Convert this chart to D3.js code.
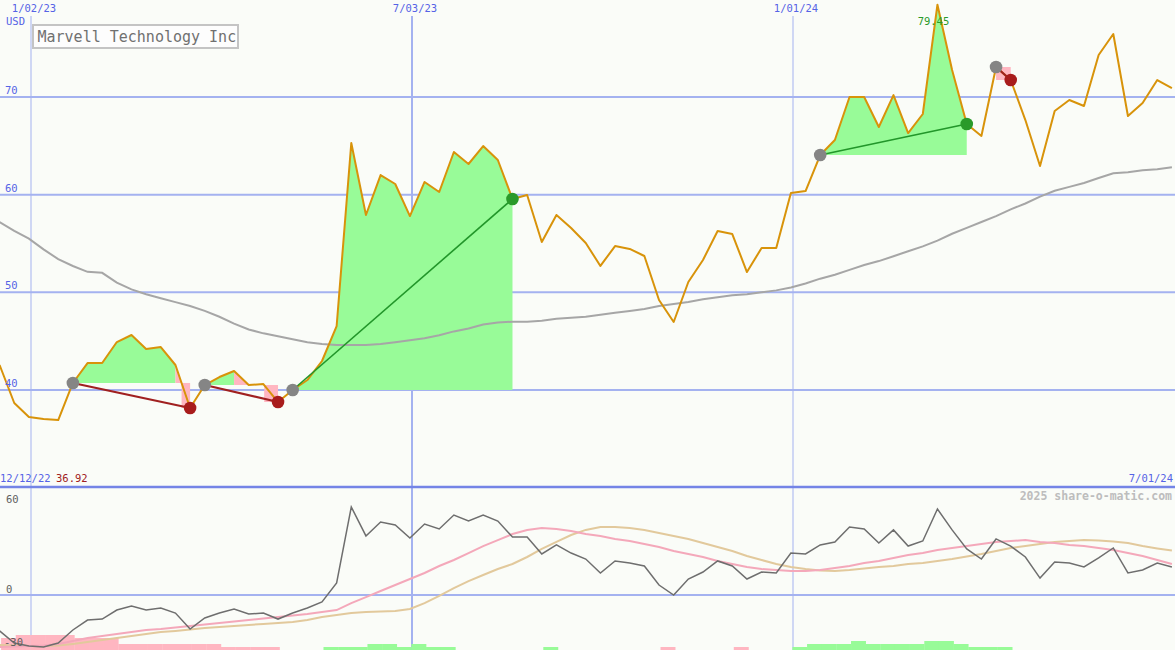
<!DOCTYPE html>
<html><head><meta charset="utf-8">
<script src="https://cdn.jsdelivr.net/npm/d3@7"></script>
<style>body{margin:0;background:#fafcf8;} svg{display:block;}</style>
</head><body><svg id="c" width="1175" height="650"></svg>
<script>
// ---------- data ----------
const title = "Marvell Technology Inc";
const currency = "USD";
const startDate = "2022-12-18";      // first weekly point
const firstLabel = "12/12/22";
const lastLabel = "7/01/24";
const credit = "2025 share-o-matic.com";
const dateTicks = ["2023-01-02", "2023-07-03", "2024-01-01"];
const dateTickLabels = ["1/02/23", "7/03/23", "1/01/24"];
const priceTicks = [40, 50, 60, 70];
const oscTicks = [60, 0, -30];

const closes = [42.56,38.67,37.24,37.03,36.92,40.72,42.76,42.76,44.91,45.63,
44.20,44.40,42.56,38.16,40.51,41.33,41.95,40.51,40.61,38.77,
40.00,41.02,42.97,46.55,65.29,57.92,62.01,61.09,57.81,61.30,
60.27,64.37,63.14,64.98,63.55,59.56,59.97,55.15,57.92,56.59,
55.05,52.70,54.74,54.44,53.72,49.21,46.96,51.06,53.31,56.28,
55.97,52.08,54.54,54.54,60.17,60.37,64.06,65.60,70.00,70.00,
66.93,70.20,66.31,68.26,79.45,72.76,67.23,66.01,73.07,71.74,
67.64,62.93,68.57,69.69,69.08,74.30,76.45,68.05,69.38,71.74,70.92];

const movingAvg = [57.2,56.3,55.5,54.4,53.4,52.7,52.1,52.0,51.0,50.3,
49.8,49.4,49.0,48.6,48.1,47.5,46.8,46.2,45.8,45.5,
45.2,44.9,44.7,44.6,44.6,44.6,44.7,44.9,45.1,45.3,
45.6,46.0,46.3,46.7,46.9,47.0,47.0,47.1,47.3,47.4,
47.5,47.7,47.9,48.1,48.3,48.6,48.8,49.0,49.3,49.5,
49.7,49.8,50.0,50.2,50.5,50.9,51.4,51.8,52.3,52.8,
53.2,53.7,54.2,54.7,55.3,56.0,56.6,57.2,57.8,58.5,
59.1,59.8,60.4,60.8,61.2,61.7,62.2,62.3,62.5,62.6,62.8];

const oscillator = [-22.7,-30.3,-32.2,-32.8,-30.3,-22.1,-15.8,-15.2,-9.5,-6.9,
-9.5,-8.2,-11.4,-21.5,-14.5,-11.4,-8.8,-12.0,-11.4,-15.2,
-11.4,-8.2,-4.4,7.6,55.6,37.3,46.1,44.2,36.0,44.8,
41.7,50.5,46.7,50.5,46.7,36.6,36.6,25.9,31.6,26.5,
22.7,13.9,21.5,20.2,18.3,6.3,0.0,10.1,14.5,21.5,
18.3,10.1,14.5,13.9,26.5,25.9,31.6,33.5,42.9,41.7,
32.8,41.1,30.9,34.1,54.3,41.1,29.1,22.7,35.4,30.9,
24.0,10.7,20.8,20.2,17.7,23.4,29.7,13.9,15.8,20.2,17.7];

const oscSignal = [-32.8,-32.5,-32.2,-31.9,-30.9,-29.1,-27.2,-25.9,-24.6,-23.4,
-22.1,-21.5,-20.5,-19.6,-18.6,-17.7,-16.7,-15.8,-14.8,-13.9,
-12.9,-12.0,-10.7,-9.5,-5.1,-1.3,2.5,6.3,10.1,13.9,
18.3,22.1,26.5,30.9,34.7,38.5,41.1,42.3,41.7,40.4,
38.5,37.3,35.4,34.1,32.2,30.3,27.8,25.9,24.0,21.5,
19.6,17.7,16.4,15.8,15.2,15.2,15.8,17.1,18.3,20.2,
21.5,23.4,25.3,26.5,28.4,29.7,30.9,32.2,33.5,34.1,
34.7,33.5,32.8,31.6,30.9,29.7,28.4,26.5,24.6,22.1,19.6];

const oscSlow = [-31.6,-31.9,-32.2,-32.2,-31.9,-30.9,-29.7,-28.4,-27.2,-25.9,
-24.6,-23.4,-22.7,-21.8,-20.8,-20.2,-19.6,-18.9,-18.3,-17.7,
-17.1,-15.8,-13.9,-12.6,-11.4,-10.7,-10.4,-10.1,-8.8,-5.1,
-0.6,4.4,8.8,12.6,16.4,19.6,24.0,29.1,33.5,37.9,
41.1,42.9,42.9,42.3,41.1,39.2,37.3,35.4,32.8,30.3,
27.8,24.6,22.1,19.6,17.7,16.4,15.5,15.2,15.8,16.7,
17.7,18.3,19.6,20.2,21.5,22.7,24.3,25.9,27.8,29.7,
30.9,32.2,33.5,34.1,34.7,34.4,33.8,32.8,30.9,29.4,28.1];

const histogram = [-4,-5,-5,-5,-5,-4,-4,-4,-2,-2,
-2,-2,-2,-2,-2,-1,-1,-1,-1,0,
0,0,1,1,1,2,2,1,2,1,
1,0,0,0,0,0,0,1,0,0,
0,0,0,0,0,-1,0,0,0,0,
-1,0,0,0,1,2,2,2,3,2,
2,2,2,3,3,2,1,1,1,0,
0,0,0,0,0,0,0,0,0,0,0];

const tradeEntries = [5, 14, 20, 56, 68];
const tradeExits = [13, 19, 35, 66, 69];

// ---------- drawing ----------
(function () {
const W = 1175, H = 650, SPLIT = 487;
const svg = d3.select("#c");
const parse = d3.utcParse("%Y-%m-%d");
const dates = closes.map((_, i) => d3.utcWeek.offset(parse(startDate), i));
const x = d3.scaleUtc().domain([parse("2023-01-02"), parse("2024-01-01")]).range([31, 793]);
const yP = d3.scaleLinear().domain([40, 70]).range([390, 97]);
const yO = d3.scaleLinear().domain([0, 60]).range([595, 500]);
const hS = d3.scaleLinear().domain([0, 5]).range([0, 15]);
const X = i => x(dates[i]);

const mono = "'DejaVu Sans Mono', 'Liberation Mono', monospace";
const blue = "#5563e6", grid = "#a4b2f0";
const GREEN = "#98fb98", PINK = "#ffb6c1";

svg.append("rect").attr("width", W).attr("height", H).attr("fill", "#fafcf8");
const defs = svg.append("defs");
defs.append("clipPath").attr("id", "ctop").append("rect").attr("x", 0).attr("y", 0).attr("width", W).attr("height", SPLIT);
defs.append("clipPath").attr("id", "cbot").append("rect").attr("x", 0).attr("y", SPLIT).attr("width", W).attr("height", H - SPLIT);

// grid
dateTicks.forEach((d, k) => {
  svg.append("line").attr("x1", x(parse(d))).attr("x2", x(parse(d))).attr("y1", 16).attr("y2", H)
    .attr("stroke", grid).attr("stroke-width", k === 1 ? 2 : 1);
});
priceTicks.forEach(v => {
  svg.append("line").attr("x1", 0).attr("x2", W).attr("y1", yP(v)).attr("y2", yP(v)).attr("stroke", grid).attr("stroke-width", 2);
});
svg.append("line").attr("x1", 0).attr("x2", W).attr("y1", yO(0)).attr("y2", yO(0)).attr("stroke", grid).attr("stroke-width", 2);

// top panel
const topG = svg.append("g").attr("clip-path", "url(#ctop)");
tradeEntries.forEach((e, t) => {
  const ex = tradeExits[t], base = closes[e], yb = yP(base);
  let k = e;
  while (k < ex) {
    const up = closes[k + 1] > base;
    if (up) {
      let j = k + 1;
      while (j < ex && closes[j + 1] > base) j++;
      const idx = d3.range(k, j + 1);
      topG.append("path")
        .attr("d", d3.area().x(X).y0(yb).y1(i => yP(closes[i]))(idx))
        .attr("fill", GREEN);
      k = j;
    } else {
      // losing segment: area above entry level, then box down to the segment end
      const x0 = X(k), x1 = X(k + 1), c0 = closes[k], c1 = closes[k + 1];
      let xc = x0;
      if (c0 > base) {
        xc = x0 + (x1 - x0) * (c0 - base) / (c0 - c1);
        topG.append("path").attr("d", d3.area().x(p => p[0]).y0(yb).y1(p => p[1])([[x0, yP(c0)], [xc, yb]]))
          .attr("fill", PINK);
      }
      topG.append("rect").attr("x", xc).attr("y", yb).attr("width", x1 - xc).attr("height", Math.max(0, yP(c1) - yb))
        .attr("fill", PINK);
      k = k + 1;
    }
  }
});
topG.append("path").datum(d3.range(closes.length))
  .attr("d", d3.line().x(X).y(i => yP(movingAvg[i])))
  .attr("fill", "none").attr("stroke", "#a6a6a6").attr("stroke-width", 2);
topG.append("path").datum(d3.range(closes.length))
  .attr("d", d3.line().x(X).y(i => yP(closes[i])))
  .attr("fill", "none").attr("stroke", "#d8930a").attr("stroke-width", 2).attr("stroke-linejoin", "round");
tradeEntries.forEach((e, t) => {
  const ex = tradeExits[t], win = closes[ex] >= closes[e];
  topG.append("line").attr("x1", X(e)).attr("y1", yP(closes[e])).attr("x2", X(ex)).attr("y2", yP(closes[ex]))
    .attr("stroke", win ? "#22962a" : "#a02020").attr("stroke-width", win ? 1.6 : 2.2);
});
tradeEntries.forEach((e, t) => {
  const ex = tradeExits[t], win = closes[ex] >= closes[e];
  topG.append("circle").attr("cx", X(e)).attr("cy", yP(closes[e])).attr("r", 6.3).attr("fill", "#858585");
  topG.append("circle").attr("cx", X(ex)).attr("cy", yP(closes[ex])).attr("r", 6.3).attr("fill", win ? "#2a9a2a" : "#a81c1c");
});

// peak label
const maxI = d3.maxIndex(closes);
svg.append("text").attr("x", X(maxI) - 4).attr("y", 25).attr("text-anchor", "middle")
  .attr("font-family", mono).attr("font-size", 10.5).attr("fill", "#2a9a2a").text(d3.max(closes).toFixed(2));

// title box
svg.append("rect").attr("x", 33).attr("y", 25).attr("width", 205).attr("height", 23)
  .attr("fill", "#fdfdfd").attr("stroke", "#c4c4c4").attr("stroke-width", 2);
svg.append("text").attr("x", 37.5).attr("y", 42).attr("font-family", mono).attr("font-size", 15)
  .attr("fill", "#707070").text(title);

// top labels
dateTicks.forEach((d, k) => {
  svg.append("text").attr("x", x(parse(d)) + 3).attr("y", 12).attr("text-anchor", "middle")
    .attr("font-family", mono).attr("font-size", 10.5).attr("fill", blue).text(dateTickLabels[k]);
});
svg.append("text").attr("x", 6).attr("y", 25).attr("font-family", mono).attr("font-size", 10.5).attr("fill", blue).text(currency);
priceTicks.forEach(v => {
  svg.append("text").attr("x", 5).attr("y", yP(v) - 3).attr("font-family", mono).attr("font-size", 10.5)
    .attr("fill", blue).text(v);
});

// separator
svg.append("line").attr("x1", 0).attr("x2", W).attr("y1", SPLIT).attr("y2", SPLIT).attr("stroke", "#7484e6").attr("stroke-width", 2.5);
svg.append("text").attr("x", 0).attr("y", 482).attr("font-family", mono).attr("font-size", 10.5).attr("fill", blue).text(firstLabel);
svg.append("text").attr("x", 56).attr("y", 482).attr("font-family", mono).attr("font-size", 10.5).attr("fill", "#a02020").text(d3.min(closes).toFixed(2));
svg.append("text").attr("x", 1173).attr("y", 482).attr("text-anchor", "end").attr("font-family", mono).attr("font-size", 10.5).attr("fill", blue).text(lastLabel);
svg.append("text").attr("x", 1172).attr("y", 500).attr("text-anchor", "end").attr("font-family", mono).attr("font-size", 11.5)
  .attr("font-weight", "bold").attr("fill", "#bdbdbd").text(credit);

// bottom panel
const bot = svg.append("g").attr("clip-path", "url(#cbot)");
histogram.forEach((v, i) => {
  if (v === 0) return;
  const x0 = X(i) + 1.5, x1 = (i + 1 < dates.length ? X(i + 1) : X(i) + (X(i) - X(i - 1))) + 1.5;
  bot.append("rect").attr("x", x0).attr("width", x1 - x0 + 0.3).attr("y", H - hS(Math.abs(v))).attr("height", hS(Math.abs(v)))
    .attr("fill", v > 0 ? GREEN : PINK);
});
const idxAll = d3.range(closes.length);
bot.append("path").datum(idxAll).attr("d", d3.line().x(X).y(i => yO(oscSlow[i])))
  .attr("fill", "none").attr("stroke", "#e2c99c").attr("stroke-width", 2);
bot.append("path").datum(idxAll).attr("d", d3.line().x(X).y(i => yO(oscSignal[i])))
  .attr("fill", "none").attr("stroke", "#f4a8ba").attr("stroke-width", 2);
bot.append("path").datum(idxAll).attr("d", d3.line().x(X).y(i => yO(oscillator[i])))
  .attr("fill", "none").attr("stroke", "#6e6e6e").attr("stroke-width", 1.5);
oscTicks.forEach(v => {
  svg.append("text").attr("x", v < 0 ? 4 : 6).attr("y", yO(v) - (v === 0 ? 2 : -3)).attr("font-family", mono)
    .attr("font-size", 10.5).attr("fill", "#606060").text(v);
});
})();
</script>
</body></html>
